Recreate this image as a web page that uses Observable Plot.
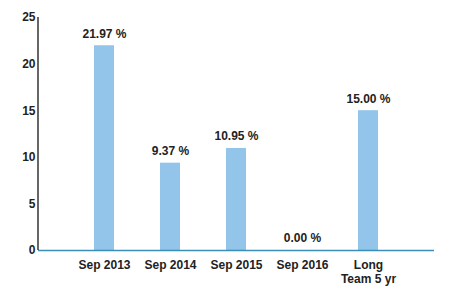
<!DOCTYPE html>
<html>
<head>
<meta charset="utf-8">
<script src="https://cdn.jsdelivr.net/npm/d3@7"></script>
<script src="https://cdn.jsdelivr.net/npm/@observablehq/plot@0.6"></script>
<style>
  html, body { margin: 0; padding: 0; background: #fff; }
  #chart svg { display: block; }
</style>
</head>
<body>
<div id="chart"></div>
<script>
const categories = ["Sep 2013", "Sep 2014", "Sep 2015", "Sep 2016", "Long\nTeam 5 yr"];
const values = [21.97, 9.37, 10.95, 0.00, 15.00];
const yTicks = [0, 5, 10, 15, 20, 25];

const data = categories.map((c, i) => ({category: c, value: values[i]}));

const leftAxisLine = (index, scales, values, dimensions) => {
  const g = d3.create("svg:line")
    .attr("x1", dimensions.marginLeft)
    .attr("x2", dimensions.marginLeft)
    .attr("y1", scales.y(25))
    .attr("y2", scales.y(0))
    .attr("stroke", "#000")
    .attr("stroke-width", 1.2);
  return g.node();
};

const chart = Plot.plot({
  width: 450,
  height: 300,
  marginLeft: 38,
  marginRight: 16,
  marginTop: 17,
  marginBottom: 50,
  style: {fontFamily: "Arial, 'Liberation Sans', sans-serif", fontSize: "12px", fontWeight: "bold", color: "#222", background: "#fff"},
  x: {domain: categories, paddingInner: 0.7, paddingOuter: 0.85, label: null},
  y: {domain: [0, 25], label: null},
  marks: [
    Plot.barY(data, {x: "category", y: "value", fill: "#92c5e9"}),
    Plot.ruleY([0], {stroke: "#3a8fb7", strokeWidth: 1.5}),
    leftAxisLine,
    Plot.axisY({ticks: yTicks, tickSize: 0, tickPadding: 3, fontWeight: "bold", fontSize: 12, label: null}),
    Plot.axisX({tickSize: 0, tickPadding: 8, fontWeight: "bold", fontSize: 12, lineHeight: 1.2, label: null}),
    Plot.text(data, {x: "category", y: "value", text: d => d.value.toFixed(2) + " %", dy: -12, fontWeight: "bold", fontSize: 12, fill: "#222"})
  ]
});
document.getElementById("chart").appendChild(chart);
</script>
</body>
</html>
